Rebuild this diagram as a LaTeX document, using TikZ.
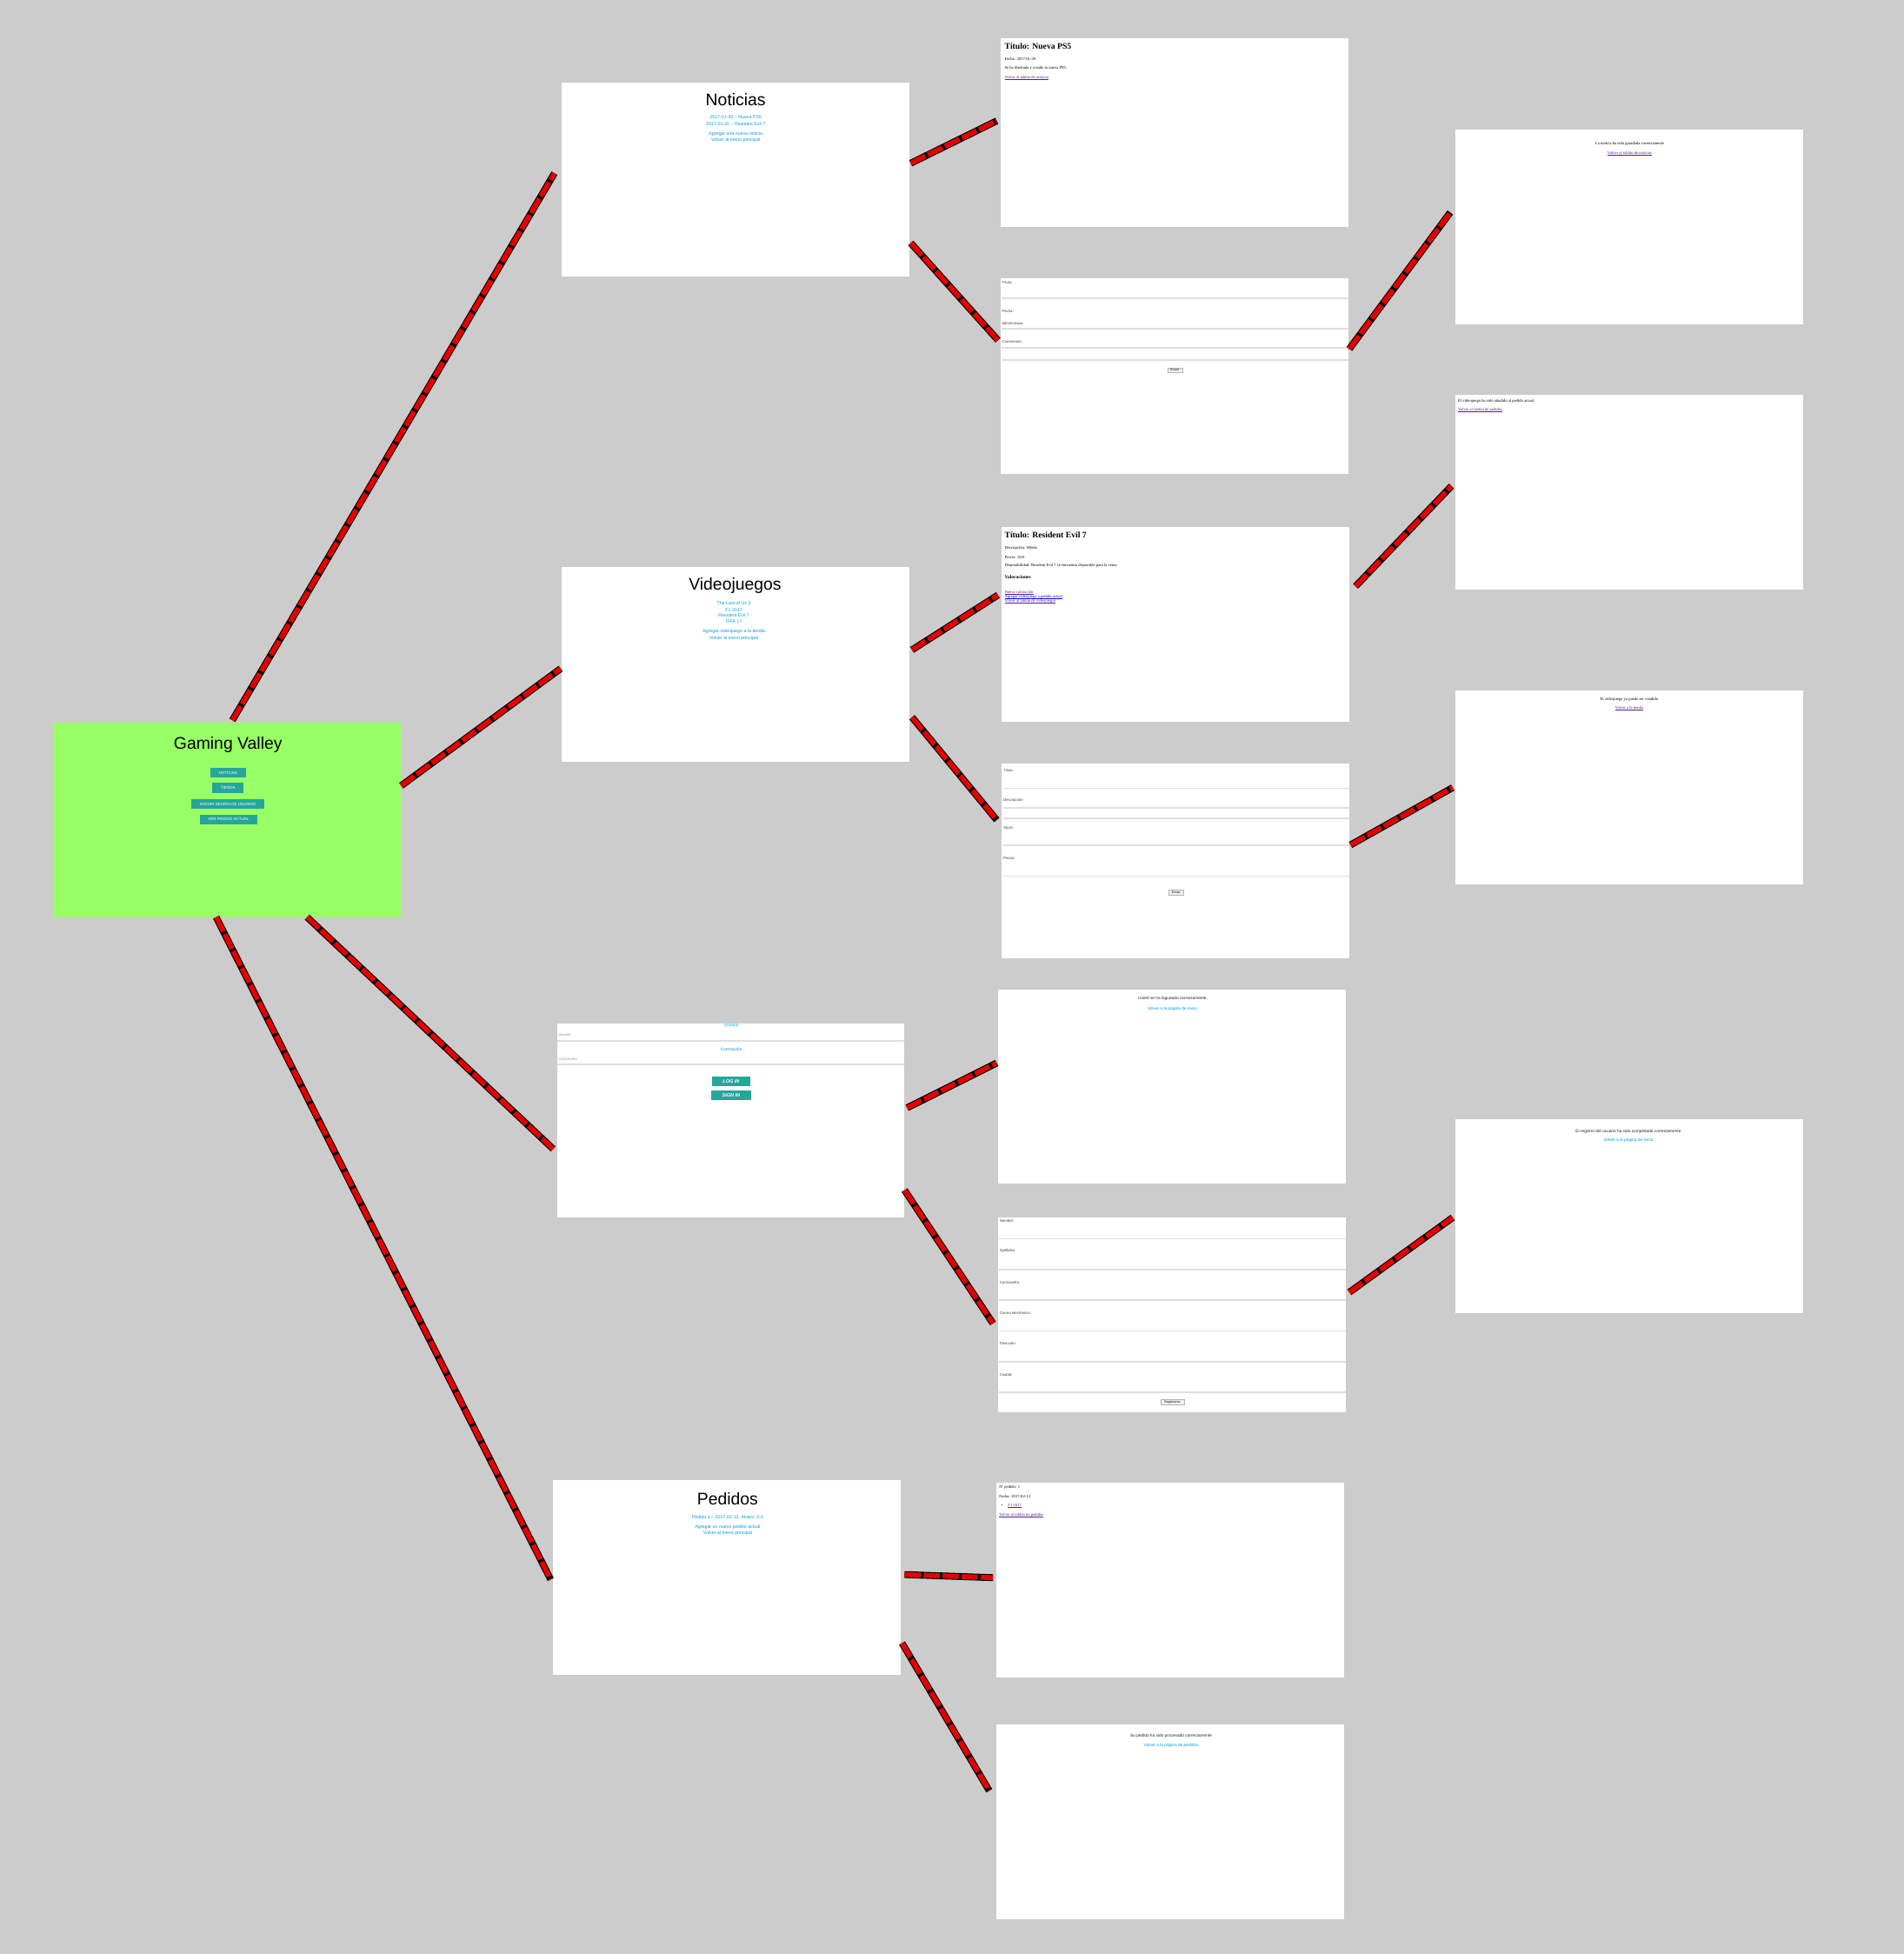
\documentclass[tikz,border=0pt]{standalone}
\usepackage{fontspec}
\setmainfont{Liberation Serif}
\setsansfont{Liberation Sans}
\usetikzlibrary{calc}

\definecolor{fondo}{RGB}{204,204,204}
\definecolor{verde}{RGB}{153,255,102}
\definecolor{verdeazul}{RGB}{38,166,154}
\definecolor{enlace}{RGB}{3,155,229}
\definecolor{visitado}{RGB}{85,26,139}
\definecolor{nuevo}{RGB}{0,0,238}
\definecolor{rojo}{RGB}{228,0,0}

\newcommand\subrayar[1]{\setbox0\hbox{#1}\rlap{\rule[-0.3pt]{\wd0}{0.1pt}}\box0}

\tikzset{
	pagina/.style={fill=white, anchor=north west, inner sep=0, outer sep=0, minimum width=55.8mm, minimum height=31.2mm},
	titulo/.style={font=\sffamily\fontsize{7.7}{9}\selectfont, inner sep=0},
	enl/.style={font=\sffamily\fontsize{2.1}{2.5}\selectfont, text=enlace, inner sep=0},
	aviso/.style={font=\sffamily\fontsize{1.9}{2.3}\selectfont, text=black!85, inner sep=0},
	boton/.style={fill=verdeazul, text=white, font=\sffamily\fontsize{1.8}{2}\selectfont, minimum height=1.6mm, inner sep=0},
	texto/.style={font=\rmfamily\fontsize{1.85}{2.2}\selectfont, inner sep=0, anchor=west},
	cabecera/.style={font=\rmfamily\bfseries\fontsize{3.85}{4.5}\selectfont, inner sep=0, anchor=west},
	visto/.style={texto, text=visitado},
	etiq/.style={font=\sffamily\fontsize{1.7}{2}\selectfont, text=black!75, inner sep=0, anchor=west},
	linea/.style={draw=black!13, line width=0.25mm},
	enviar/.style={draw=black!30, fill=black!6, line width=0.06mm, font=\sffamily\fontsize{1.4}{1.6}\selectfont, minimum width=2.4mm, minimum height=0.8mm, inner sep=0},
	conexion/.style={line width=1.1mm, draw=black, postaction={draw=rojo, line width=0.8mm, dash pattern=on 2.6mm off 0.45mm}}
}

\begin{document}
\begin{tikzpicture}[x=0.2mm, y=-0.2mm]
	%%%%% START %%%%%
	
	\fill[fondo] (0,0) rectangle (1528,1568);
	\useasboundingbox (0,0) rectangle (1528,1568);
	
	% pagina principal
	\node[pagina, fill=verde] (gv) at (43,580) {};
	\node[titulo] (gv-titulo) at (183,598) {Gaming Valley};
	\node[boton, minimum width=5.72mm] (gv-noticias) at (183,620) {NOTICIAS};
	\node[boton, minimum width=5mm] (gv-tienda) at (183,632.3) {TIENDA};
	\node[boton, minimum width=11.66mm] (gv-sesion) at (183,645.2) {INICIAR SESIÓN DE USUARIO};
	\node[boton, minimum width=9.2mm] (gv-pedido) at (183.5,657.6) {VER PEDIDO ACTUAL};
	
	% noticias
	\node[pagina] (noticias) at (451,66) {};
	\node[titulo] (not-titulo) at (590.5,80) {Noticias};
	\node[enl] (not-1) at (590.5,94.2) {2017-01-29 – Nueva PS5};
	\node[enl] (not-2) at (590.5,99.5) {2017-01-31 – Resident Evil 7};
	\node[enl] (not-3) at (590.5,107.5) {Agregar una nueva noticia};
	\node[enl] (not-4) at (590.5,112.6) {Volver al menú principal};
	
	\node[pagina, minimum height=30.2mm] (ps5) at (803,31) {};
	\node[cabecera] (ps5-titulo) at (806,37) {Título: Nueva PS5};
	\node[texto] (ps5-fecha) at (806,47.4) {Fecha: 2017-01-29};
	\node[texto] (ps5-cuerpo) at (806,54.9) {Se ha diseñado y creado la nueva PS5.};
	\node[visto] (ps5-volver) at (806,62.6) {\subrayar{Volver al tablón de noticias}};
	
	\node[pagina, minimum height=31.4mm] (fnot) at (803,223) {};
	\node[etiq] (fnot-titulo) at (804,226.8) {Título:};
	\draw[linea] (804,239.5) -- (1082,239.5);
	\node[etiq] (fnot-fecha) at (804,249.8) {Fecha:};
	\node[etiq] (fnot-formato) at (804,259.3) {dd/mm/aaaa};
	\draw[linea] (804,264) -- (1082,264);
	\node[etiq] (fnot-coment) at (804,274.2) {Comentario:};
	\draw[linea] (804,279) -- (1082,279);
	\draw[linea] (804,289) -- (1082,289);
	\node[enviar] (fnot-enviar) at (943,297) {Enviar};
	
	\node[pagina] (notok) at (1168,104) {};
	\node[texto, anchor=center] (notok-msg) at (1308,115.1) {La noticia ha sido guardada correctamente};
	\node[visto, anchor=center] (notok-volver) at (1308,123) {\subrayar{Volver al tablón de noticias}};
	
	% videojuegos
	\node[pagina] (videojuegos) at (451,455) {};
	\node[titulo] (vid-titulo) at (590,469.8) {Videojuegos};
	\node[enl] (vid-1) at (589,484.2) {The Last of Us 2};
	\node[enl] (vid-2) at (589,489.3) {F1 2017};
	\node[enl] (vid-3) at (589,493.8) {Resident Evil 7};
	\node[enl] (vid-4) at (589,498.9) {FIFA 17};
	\node[enl] (vid-5) at (589,507) {Agregar videojuego a la tienda};
	\node[enl] (vid-6) at (589,512.1) {Volver al menú principal};
	
	\node[pagina] (re7) at (804,423) {};
	\node[cabecera] (re7-titulo) at (806,429.5) {Título: Resident Evil 7};
	\node[texto] (re7-desc) at (806,439.8) {Descripción: Miedo};
	\node[texto] (re7-precio) at (806,447) {Precio: 50.0};
	\node[texto] (re7-disp) at (806,453.8) {Disponibilidad: Resident Evil 7 se encuentra disponible para la venta};
	\node[texto, font=\rmfamily\bfseries\fontsize{2.2}{2.6}\selectfont] (re7-val) at (806,462.8) {Valoraciones};
	\node[visto] (re7-nueva) at (806,475.6) {\subrayar{Nueva valoración}};
	\node[texto, text=nuevo] (re7-agregar) at (806,478.9) {\subrayar{Agregar videojuego a pedido actual}};
	\node[visto] (re7-volver) at (806,482.8) {\subrayar{Volver al tablón de videojuegos}};
	
	\node[pagina] (fvid) at (804,613) {};
	\node[etiq] (fvid-titulo) at (805,618) {Título:};
	\draw[linea] (805,632.5) -- (1083,632.5);
	\node[etiq] (fvid-desc) at (805,642) {Descripción:};
	\draw[linea] (805,648) -- (1083,648);
	\draw[linea] (805,656.5) -- (1083,656.5);
	\node[etiq] (fvid-stock) at (805,664) {Stock:};
	\draw[linea] (805,678.5) -- (1083,678.5);
	\node[etiq] (fvid-precio) at (805,689) {Precio:};
	\draw[linea] (805,703) -- (1083,703);
	\node[enviar] (fvid-enviar) at (944,716) {Enviar};
	
	\node[pagina] (addped) at (1168,317) {};
	\node[texto] (addped-msg) at (1170,321.7) {El videojuego ha sido añadido al pedido actual};
	\node[visto] (addped-volver) at (1170,329.1) {\subrayar{Volver al tablón de pedidos}};
	
	\node[pagina] (vendok) at (1168,554) {};
	\node[texto, anchor=center] (vendok-msg) at (1307.6,561) {El videojuego ya puede ser vendido};
	\node[visto, anchor=center] (vendok-volver) at (1307.6,568) {\subrayar{Volver a la tienda}};
	
	% usuarios
	\node[pagina] (login) at (447,821) {};
	\node[enl, font=\sffamily\fontsize{1.9}{2.2}\selectfont] (login-usuario) at (587,822.9) {Usuario};
	\node[etiq, text=black!40] (login-ph1) at (448,830.3) {usuario};
	\draw[linea] (447,835.4) -- (726,835.4);
	\node[enl, font=\sffamily\fontsize{1.9}{2.2}\selectfont] (login-clave) at (587,842.2) {Contraseña};
	\node[etiq, text=black!40] (login-ph2) at (448,849.6) {contraseña};
	\draw[linea] (447,854.3) -- (726,854.3);
	\node[boton, minimum width=6.04mm, minimum height=1.55mm, font=\sffamily\bfseries\itshape\fontsize{2.2}{2.5}\selectfont] (login-in) at (586.8,867.6) {LOG IN};
	\node[boton, minimum width=6.32mm, minimum height=1.5mm, font=\sffamily\bfseries\itshape\fontsize{2.2}{2.5}\selectfont] (login-sign) at (586.8,879) {SIGN IN};
	
	\node[pagina] (logok) at (801,794) {};
	\node[aviso] (logok-msg) at (941.4,801.5) {Usted se ha logueado correctamente.};
	\node[enl, font=\sffamily\fontsize{1.9}{2.3}\selectfont] (logok-volver) at (941,809.6) {Volver a la página de inicio};
	
	\node[pagina] (registro) at (801,977) {};
	\node[etiq] (reg-nombre) at (802,980) {Nombre:};
	\draw[linea] (802,994) -- (1080,994);
	\node[etiq] (reg-apellidos) at (802,1004) {Apellidos:};
	\draw[linea] (802,1019) -- (1080,1019);
	\node[etiq] (reg-clave) at (802,1029) {Contraseña:};
	\draw[linea] (802,1043) -- (1080,1043);
	\node[etiq] (reg-correo) at (802,1054) {Correo electrónico:};
	\draw[linea] (802,1068) -- (1080,1068);
	\node[etiq] (reg-dir) at (802,1078) {Dirección:};
	\draw[linea] (802,1093) -- (1080,1093);
	\node[etiq] (reg-ciudad) at (802,1103) {Ciudad:};
	\draw[linea] (802,1117) -- (1080,1117);
	\node[enviar, minimum width=3.8mm] (reg-enviar) at (941,1125) {Registrarse};
	
	\node[pagina] (regok) at (1168,898) {};
	\node[aviso] (regok-msg) at (1307,907.8) {El registro del usuario ha sido completado correctamente};
	\node[enl, font=\sffamily\fontsize{1.9}{2.3}\selectfont] (regok-volver) at (1307,915.2) {Volver a la página de inicio};
	
	% pedidos
	\node[pagina] (pedidos) at (444,1188) {};
	\node[titulo] (ped-titulo) at (584,1202.4) {Pedidos};
	\node[enl] (ped-1) at (584,1217.3) {Pedido 1 – 2017-02-13, Alvaro, 0.0};
	\node[enl] (ped-2) at (584,1225.7) {Agregar un nuevo pedido actual};
	\node[enl] (ped-3) at (584,1230.6) {Volver al menú principal};
	
	\node[pagina] (peddet) at (800,1190) {};
	\node[texto] (peddet-num) at (801.7,1193.2) {Nº pedido: 1};
	\node[texto] (peddet-fecha) at (801.7,1200.6) {Fecha: 2017-02-13};
	\node[texto] (peddet-punto) at (803,1208.3) {•};
	\node[visto] (peddet-juego) at (808.7,1208.3) {\subrayar{F1 2017}};
	\node[visto] (peddet-volver) at (801.7,1215.7) {\subrayar{Volver al tablón de pedidos}};
	
	\node[pagina] (pedok) at (800,1384) {};
	\node[aviso] (pedok-msg) at (940,1393) {Su pedido ha sido procesado correctamente};
	\node[enl, font=\sffamily\fontsize{1.9}{2.3}\selectfont] (pedok-volver) at (940,1401) {Volver a la página de pedidos};
	
	% conexiones
	\draw[conexion] ($(gv.north)+(4,-2)$) -- ($(noticias.west)+(-6,-5)$);
	\draw[conexion] ($(gv.east)+(0,-27.5)$) -- ($(videojuegos.west)+(-1,3.5)$);
	\draw[conexion] ($(gv.south)+(64,0)$) -- ($(login.west)+(-3,23)$);
	\draw[conexion] ($(gv.south)+(-9,0)$) -- ($(pedidos.west)+(-2,1.5)$);
	
	\draw[conexion] ($(noticias.east)+(1,-13)$) -- ($(ps5.west)+(-3,-9.5)$);
	\draw[conexion] ($(noticias.east)+(1,51)$) -- ($(fnot.west)+(-2,-28.5)$);
	\draw[conexion] ($(fnot.east)+(1,-21.5)$) -- ($(notok.west)+(-4,-11.5)$);
	
	\draw[conexion] ($(videojuegos.east)+(2,-11.5)$) -- ($(re7.west)+(-3,-23.5)$);
	\draw[conexion] ($(videojuegos.east)+(2,42.5)$) -- ($(fvid.west)+(-4,-33)$);
	\draw[conexion] ($(re7.east)+(5,-30.5)$) -- ($(addped.west)+(-3,-5)$);
	\draw[conexion] ($(fvid.east)+(1,-13)$) -- ($(vendok.west)+(-2,0)$);
	
	\draw[conexion] ($(login.east)+(2,-10)$) -- ($(logok.west)+(-1,-19)$);
	\draw[conexion] ($(login.east)+(0,56)$) -- ($(registro.west)+(-4,7)$);
	\draw[conexion] ($(registro.east)+(3,-18)$) -- ($(regok.west)+(-2,1)$);
	
	\draw[conexion] ($(pedidos.east)+(3,-2.5)$) -- ($(peddet.west)+(-3,-2)$);
	\draw[conexion] ($(pedidos.east)+(1,52.5)$) -- ($(pedok.west)+(-6,-25)$);
	
	%%%%% END %%%%%
\end{tikzpicture}
\end{document}
